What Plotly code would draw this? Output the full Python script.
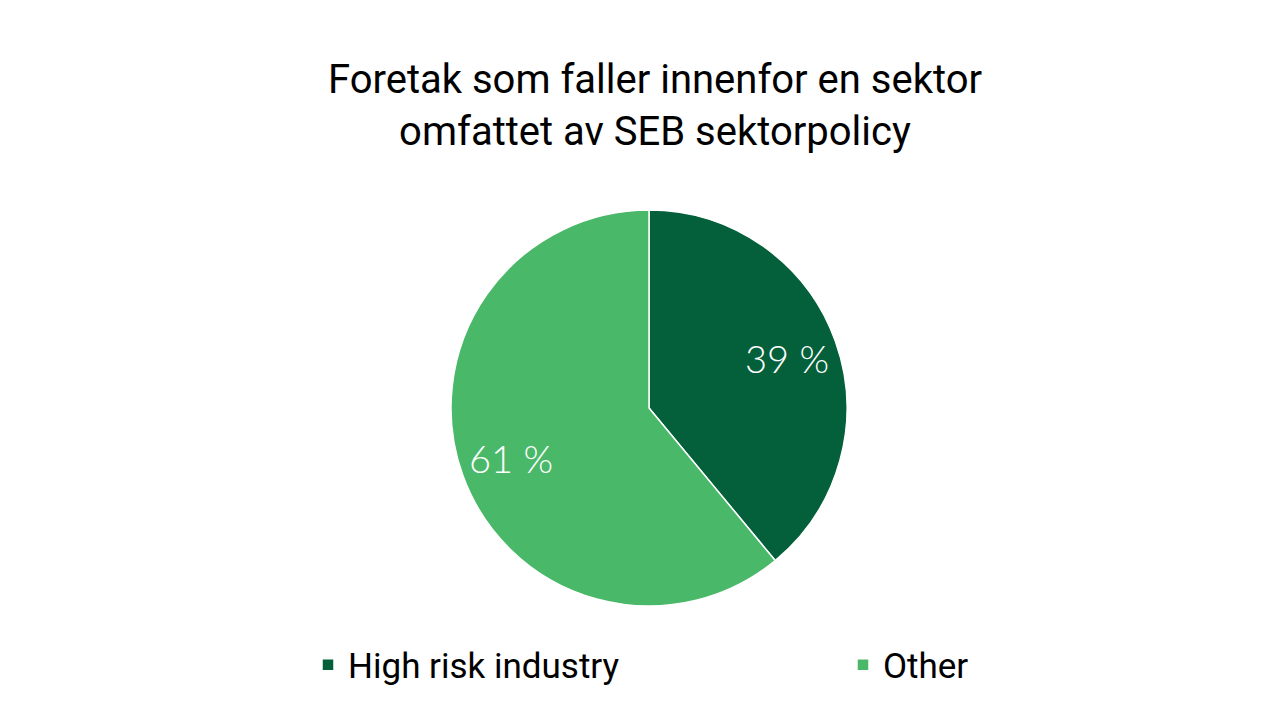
import math
import plotly.graph_objects as go

categories = ["High risk industry", "Other"]
values = [39, 61]
label_text = ["39 %", "61 %"]
colors = ["#03603A", "#4AB869"]
title_text = "Foretak som faller innenfor en sektor<br>omfattet av SEB sektorpolicy"

W, H = 1280, 720
cx, cy, r = 649, 408, 198
label_radius = 0.74

fig = go.Figure(go.Pie(
    labels=categories,
    values=values,
    textinfo="none",
    marker=dict(colors=colors, line=dict(color="white", width=1.5)),
    sort=False,
    direction="clockwise",
    rotation=0,
    hoverinfo="skip",
    domain=dict(x=[(cx - r) / W, (cx + r) / W], y=[(H - cy - r) / H, (H - cy + r) / H]),
))

# slice labels placed at the angular middle of each slice
total = sum(values)
cum = 0
for v, t in zip(values, label_text):
    mid = (cum + v / 2) / total * 2 * math.pi
    cum += v
    fig.add_annotation(
        x=(cx + label_radius * r * math.sin(mid)) / W,
        y=(H - cy + label_radius * r * math.cos(mid)) / H,
        xref="paper", yref="paper",
        text=t, showarrow=False,
        font=dict(family="Lato", size=38, color="white", weight=300),
        xanchor="center", yanchor="middle",
    )

fig.update_layout(
    width=W, height=H,
    margin=dict(l=0, r=0, t=0, b=0, autoexpand=False),
    paper_bgcolor="white",
    plot_bgcolor="white",
    title=dict(
        text=title_text,
        font=dict(family="Roboto", size=40, color="black"),
        x=655 / W, xanchor="center",
        y=1 - 93 / H, yanchor="middle",
    ),
    legend=dict(
        orientation="h",
        x=308 / W, xanchor="left",
        y=1 - 665 / H, yanchor="middle",
        font=dict(family="Roboto", size=35, color="black"),
        entrywidth=490, entrywidthmode="pixels",
        traceorder="normal",
    ),
)

fig.write_html("out.html")
